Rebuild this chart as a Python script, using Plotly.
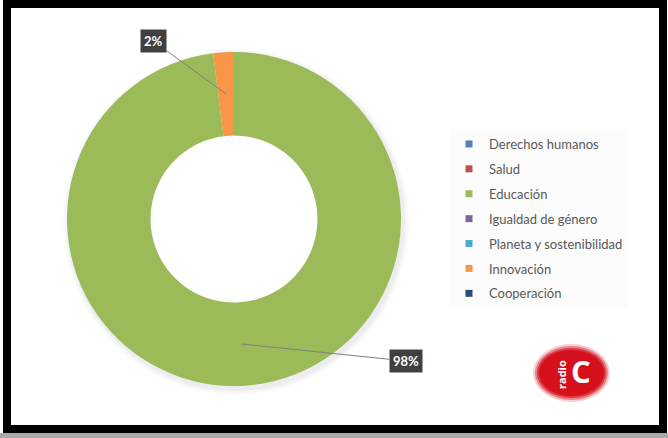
import math
import plotly.graph_objects as go

categories = ['Derechos humanos', 'Salud', 'Educación', 'Igualdad de género',
              'Planeta y sostenibilidad', 'Innovación', 'Cooperación']
values = [0, 0, 98, 0, 0, 2, 0]
colors = ['#4F81BD', '#C0504D', '#9BBB59', '#8064A2', '#4BACC6', '#F79646', '#2C4D75']

# pixel offsets of the label boxes from the slice anchor
LABEL_OFFSETS = {'Educación': (164, 17), 'Innovación': (-73, -53)}

W, H = 668, 438
CX, CY, R = 234, 219, 167
HOLE = 0.5


def px(x):
    return x / W


def py(y):
    return 1 - y / H


fig = go.Figure()

fig.add_trace(go.Pie(
    labels=categories,
    values=values,
    hole=HOLE,
    sort=False,
    direction='clockwise',
    rotation=0,
    marker=dict(colors=colors, line=dict(width=0)),
    textinfo='none',
    hoverinfo='label+percent',
    showlegend=False,
    domain=dict(x=[px(CX - R), px(CX + R)], y=[py(CY + R), py(CY - R)]),
))

# legend entries with small square markers
for cat, col in zip(categories, colors):
    fig.add_trace(go.Scatter(
        x=[None], y=[None], mode='markers', name=cat, legendgroup=cat,
        marker=dict(symbol='square', size=7, color=col),
    ))

# leader-line labels computed from slice angles
total = sum(values)
annotations = []
cum = 0
for cat, v in zip(categories, values):
    if v > 0:
        mid = (cum + v / 2) / total * 2 * math.pi
        r = 0.75 * R
        tx = CX + r * math.sin(mid)
        ty = CY - r * math.cos(mid)
        ax, ay = LABEL_OFFSETS[cat]
        annotations.append(dict(
            x=px(tx), y=py(ty), xref='paper', yref='paper',
            text='<b>%d%%</b>' % round(100 * v / total),
            showarrow=True, arrowhead=0, arrowwidth=1, arrowcolor='#7f7f7f',
            ax=ax, ay=ay, standoff=0,
            bgcolor='#404040', borderpad=3,
            font=dict(family='Lato', size=13, color='white'),
        ))
    cum += v

# radio C logo
annotations.append(dict(x=px(561), y=py(375), xref='paper', yref='paper', text='<b>radio</b>',
                        textangle=-90, showarrow=False, xanchor='center', yanchor='middle',
                        font=dict(family='Open Sans', size=11, color='white')))
annotations.append(dict(x=px(581), y=py(371), xref='paper', yref='paper', text='<b>C</b>',
                        showarrow=False, xanchor='center', yanchor='middle',
                        font=dict(family='Open Sans', size=31, color='white')))

shapes = []
# soft shadow around donut
for i, a in enumerate([0.02, 0.03, 0.045]):
    d = 6 - 2 * i
    shapes.append(dict(type='circle', xref='paper', yref='paper', layer='below',
                       x0=px(CX - R - d + 2), x1=px(CX + R + d + 2),
                       y0=py(CY + R + d + 3), y1=py(CY - R - d + 3),
                       fillcolor='rgba(60,60,90,%s)' % a, line=dict(width=0)))
hr = R * HOLE
shapes.append(dict(type='circle', xref='paper', yref='paper', layer='below',
                   x0=px(CX - hr), x1=px(CX + hr), y0=py(CY + hr), y1=py(CY - hr),
                   fillcolor='white', line=dict(width=0)))
# blurred red logo
for i, a in enumerate([0.2, 0.4, 0.65, 1.0]):
    d = 7 - 2 * i
    shapes.append(dict(type='circle', xref='paper', yref='paper',
                       x0=px(540 - d), x1=px(603 + d), y0=py(395 + d), y1=py(351 - d),
                       fillcolor='rgba(212,16,28,%s)' % a, line=dict(width=0)))
# frame
shapes.append(dict(type='rect', xref='paper', yref='paper',
                   x0=px(0), x1=px(W), y0=py(438), y1=py(433),
                   fillcolor='#a9a9a9', line=dict(width=0)))
shapes.append(dict(type='rect', xref='paper', yref='paper',
                   x0=px(7), x1=px(663), y0=py(429), y1=py(4),
                   line=dict(color='black', width=8)))

fig.update_layout(
    width=W, height=H,
    margin=dict(l=0, r=0, t=0, b=0),
    paper_bgcolor='white', plot_bgcolor='white',
    xaxis=dict(visible=False), yaxis=dict(visible=False),
    showlegend=True,
    legend=dict(x=px(449), y=py(129), xanchor='left', yanchor='top',
                font=dict(family='Lato', size=13, color='#595959'),
                bgcolor='#fcfcfc', tracegroupgap=5, itemclick=False),
    annotations=annotations,
    shapes=shapes,
)

fig.write_html('out.html', config={'displayModeBar': False},
               post_script="document.body.style.margin='0';")
